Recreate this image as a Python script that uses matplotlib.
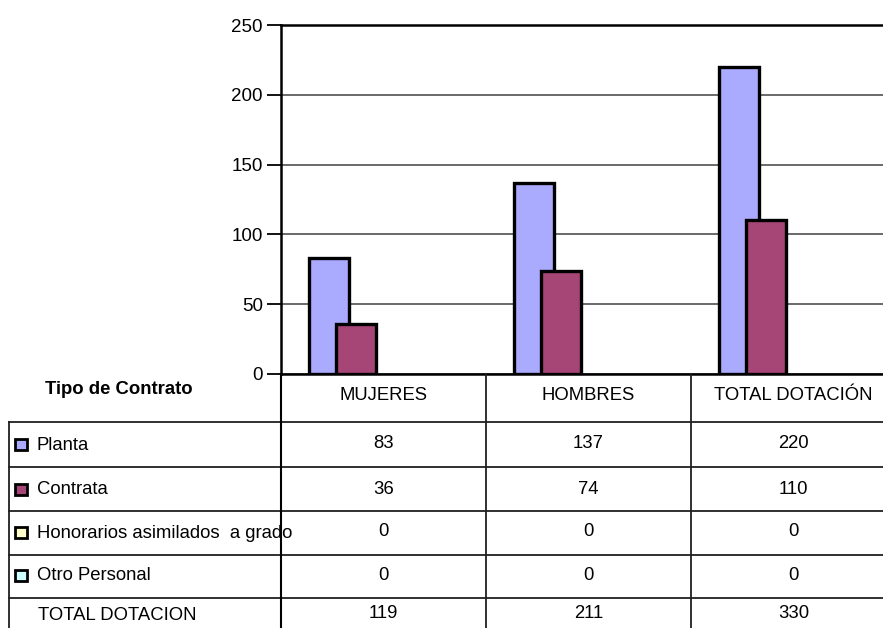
import numpy as np
import matplotlib.pyplot as plt
from matplotlib.patches import Rectangle

plt.rcParams['font.family'] = ['Liberation Sans', 'DejaVu Sans']

# datos de dotación por tipo de contrato
categorias = ['MUJERES', 'HOMBRES', 'TOTAL DOTACIÓN']
series = ['Planta', 'Contrata', 'Honorarios asimilados  a grado', 'Otro Personal']
planta = [83, 137, 220]
contrata = [36, 74, 110]
honorarios = [0, 0, 0]
otro = [0, 0, 0]
colores = ['#AAAAFF', '#A64676', '#FFFFCC', '#CCFFFF']
yticks = [0, 50, 100, 150, 200, 250]

valores = [planta, contrata, honorarios, otro]
total = [sum(v) for v in zip(*valores)]

W, H = 883, 628
fig = plt.figure(figsize=(W / 100, H / 100), dpi=100)

# grafico de barras (la tabla va debajo)
ax = fig.add_axes([281 / W, (H - 374) / H, 615 / W, 349 / H])
x = np.arange(len(categorias))
desfase = [0.137, 0.268, 0.40, 0.53]
ancho = 0.195
for k, vals in enumerate(valores):
    ax.bar(x + desfase[k], vals, width=ancho, align='edge', color=colores[k],
           edgecolor='black', linewidth=[2.4 if v else 0 for v in vals],
           zorder=3 + k)

ax.set_xlim(0, 3)
ax.set_ylim(0, 250)
ax.set_yticks(yticks)
ax.set_xticks([])
ax.yaxis.grid(True, color='#505050', linewidth=1.2, zorder=0)
ax.tick_params(axis='y', length=10, width=1.3, labelsize=13.5, pad=3,
               colors='black')
for s in ['left', 'top', 'bottom']:
    ax.spines[s].set_linewidth(1.8)
    ax.spines[s].set_color('black')
ax.spines['right'].set_visible(False)

# tabla de datos, en pixeles
tab = fig.add_axes([0, 0, 1, 1])
tab.set_xlim(0, W)
tab.set_ylim(H, 0)
tab.axis('off')
tab.patch.set_visible(False)

lc = '#202020'
filas = [422, 467, 511, 555, 598]
for yy in filas:
    tab.plot([9, W], [yy, yy], color=lc, lw=1.3)
tab.plot([9, 9], [422, H], color=lc, lw=1.3)
tab.plot([281, 281], [374, H], color='black', lw=1.5)

# columnas a partir de la escala del eje x
def px(xd):
    return ax.transData.transform((xd, 0))[0]

for i in range(1, len(categorias)):
    tab.plot([px(i), px(i)], [374, H], color=lc, lw=1.3)

fs = 13.3
tab.text(119, 390, 'Tipo de Contrato', ha='center', va='center',
         fontsize=fs, fontweight='bold')
for i, c in enumerate(categorias):
    tab.text(px(i + 0.5), 395, c, ha='center', va='center', fontsize=fs)

centros = [445, 490, 533, 576]
for k, nombre in enumerate(series):
    yc = centros[k]
    tab.add_patch(Rectangle((15, yc - 6), 12, 11, facecolor=colores[k],
                            edgecolor='black', lw=2))
    tab.text(37, yc, nombre, ha='left', va='center', fontsize=fs)
    for i, v in enumerate(valores[k]):
        tab.text(px(i + 0.5), yc - 1, str(v), ha='center', va='center',
                 fontsize=fs)

tab.text(38, 616, 'TOTAL DOTACION', ha='left', va='center', fontsize=fs)
for i, v in enumerate(total):
    tab.text(px(i + 0.5), 614, str(v), ha='center', va='center', fontsize=fs)

fig.savefig('out.png', dpi=100)
